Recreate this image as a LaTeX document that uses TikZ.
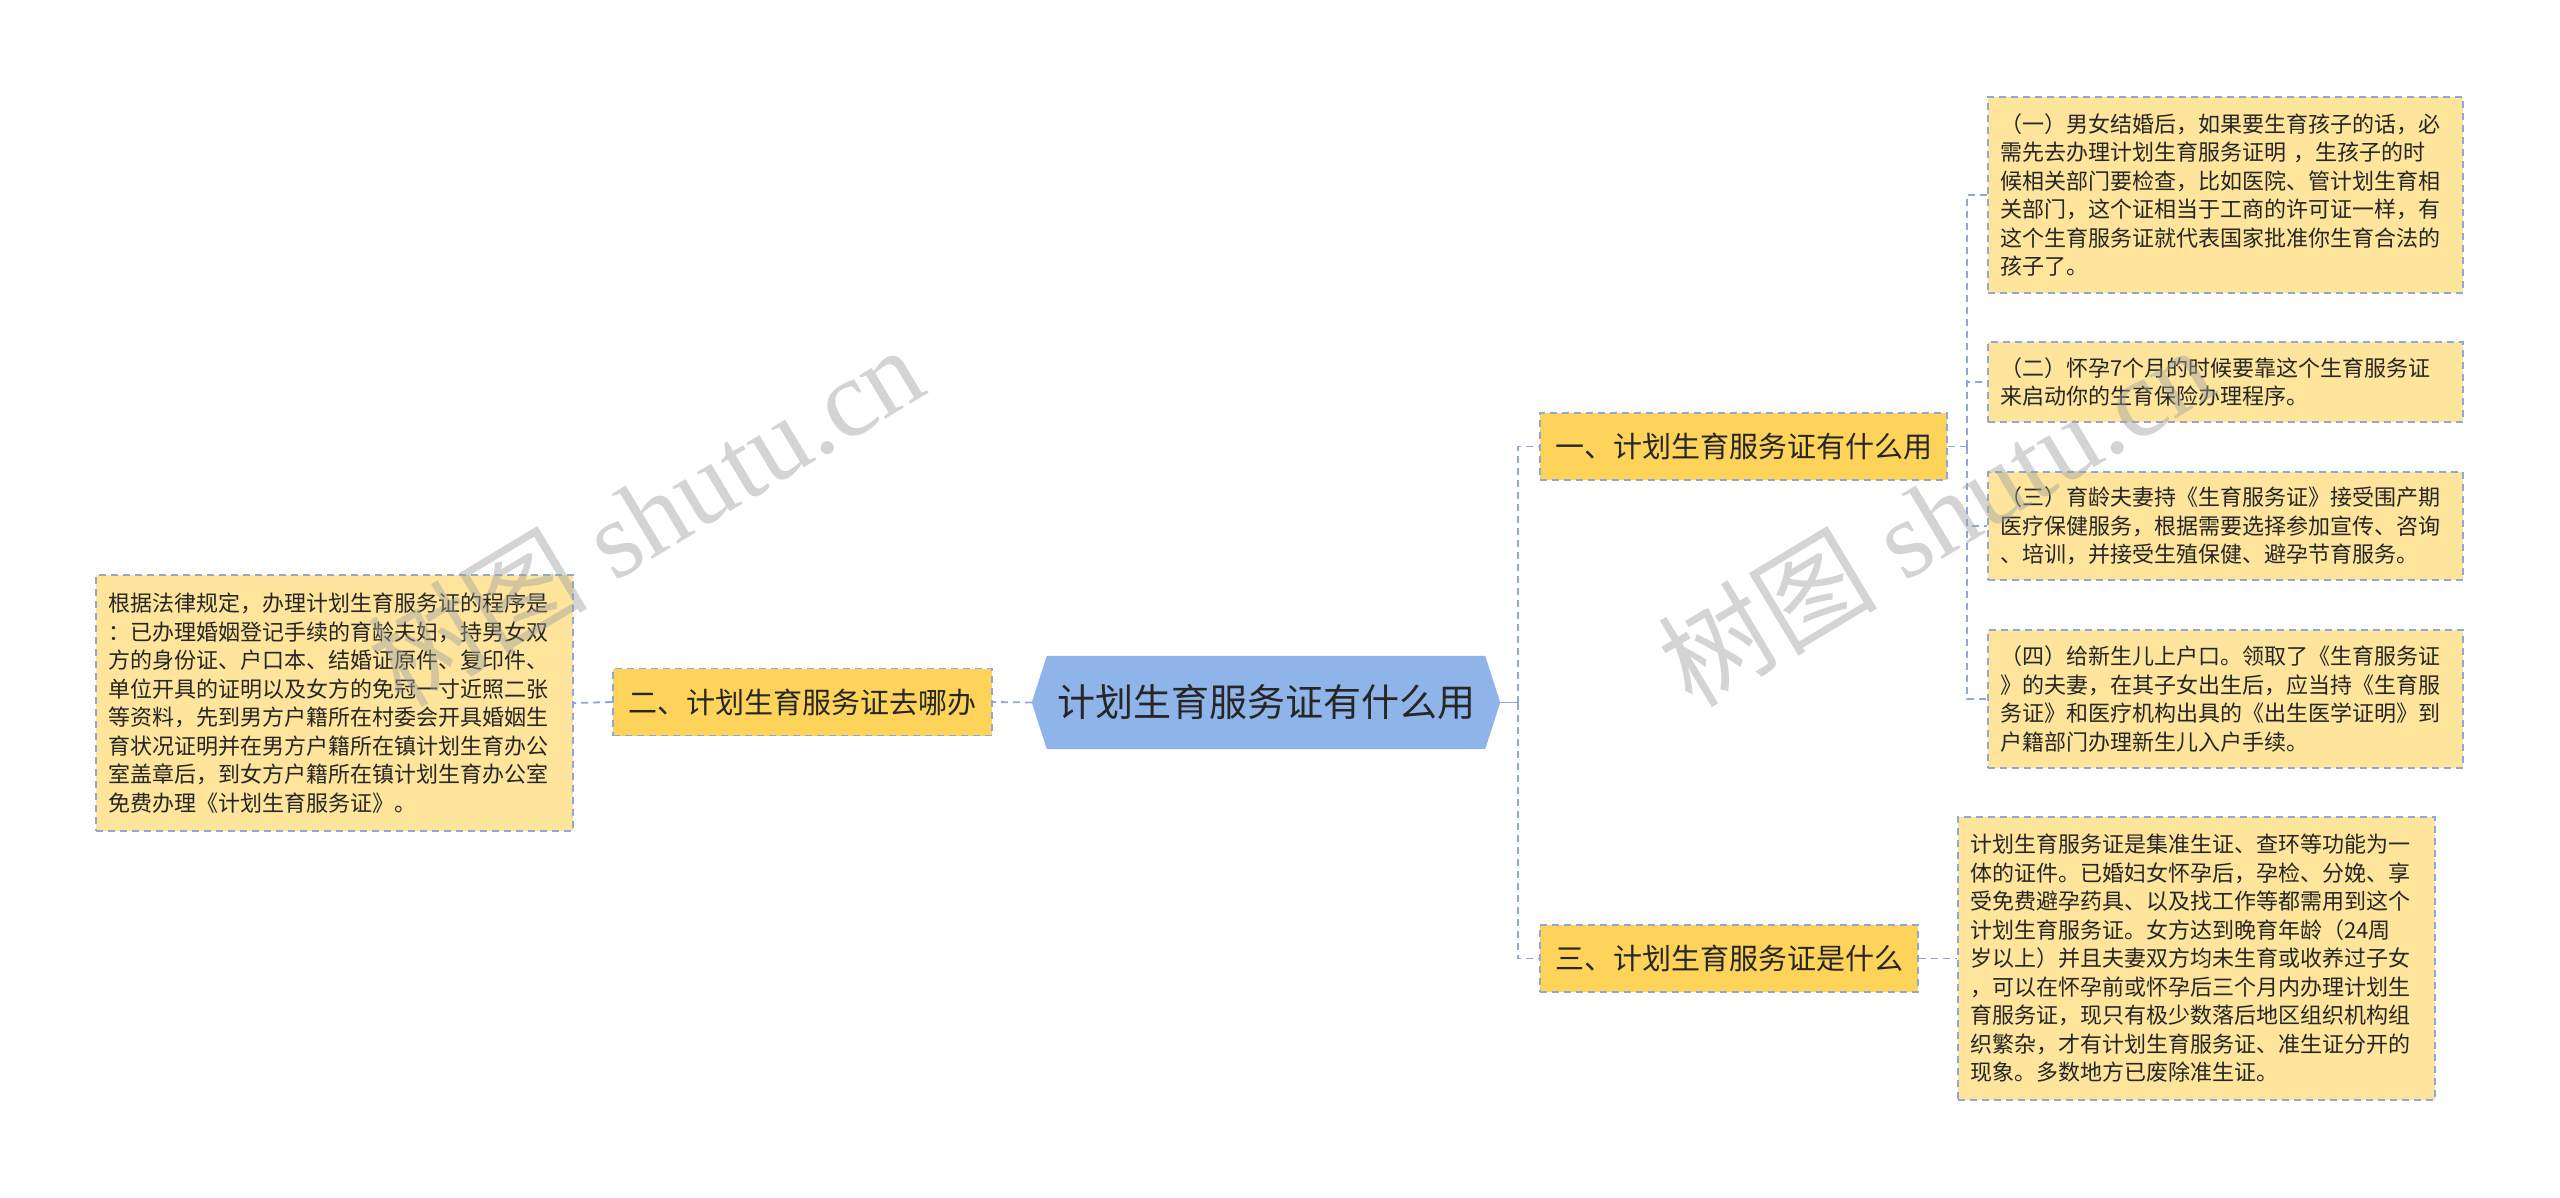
\documentclass[tikz,border=0pt]{standalone}
\usepackage{fontspec}
\setmainfont{Liberation Sans}
\newfontfamily\cjk{Noto Sans CJK SC}
\newfontfamily\wmserif{Liberation Serif}
\usetikzlibrary{calc}
\pgfdeclarelayer{bg}
\pgfsetlayers{bg,main}
\definecolor{centerblue}{HTML}{8FB4EA}
\definecolor{topicgold}{HTML}{FDD35A}
\definecolor{leafgold}{HTML}{FEE59B}
\definecolor{linecol}{HTML}{8EA9D6}
\definecolor{txtcol}{HTML}{262626}
\definecolor{wmcol}{HTML}{A0A0A0}
\tikzset{
  x=1pt, y=-1pt,
  conn/.style={draw=linecol, line width=1.8pt, dash pattern=on 7pt off 5pt},
  solidconn/.style={draw=linecol, line width=1.8pt},
  centernode/.style={font=\cjk\fontsize{38pt}{44pt}\selectfont, text=txtcol, inner sep=0pt, minimum width=468pt, minimum height=93pt},
  topic/.style={fill=topicgold, draw=linecol, line width=1.6pt, dash pattern=on 7pt off 5pt,
    font=\cjk\fontsize{29pt}{35pt}\selectfont, text=txtcol, inner sep=0pt, minimum height=67pt},
  leaf/.style={fill=leafgold, draw=linecol, line width=1.6pt, dash pattern=on 7pt off 5pt,
    font=\cjk\fontsize{22pt}{28.5pt}\selectfont, text=txtcol, align=left, inner xsep=12pt, inner ysep=0pt},
  wm/.style={font=\wmserif\fontsize{110pt}{110pt}\selectfont, text=wmcol, opacity=0.45, inner sep=0pt},
}
\begin{document}
\begin{tikzpicture}
\useasboundingbox (0,0) rectangle (2560,1198);
\begin{pgfonlayer}{bg}
\fill[white] (0,0) rectangle (2560,1198);
\end{pgfonlayer}

% central topic
\node[centernode] (c) at (1266,702.5) {计划生育服务证有什么用};
\begin{pgfonlayer}{bg}
\fill[centerblue] (c.west) -- ([xshift=15pt]c.north west) -- ([xshift=-15pt]c.north east) -- (c.east)
  -- ([xshift=-15pt]c.south east) -- ([xshift=15pt]c.south west) -- cycle;
\end{pgfonlayer}

% level 1
\node[topic, minimum width=407pt] (n1) at (1743.5,446.5) {一、计划生育服务证有什么用};
\node[topic, minimum width=378pt] (n3) at (1729,958.5) {三、计划生育服务证是什么};
\node[topic, minimum width=379pt] (n2) at (802.5,702) {二、计划生育服务证去哪办};

% leaves of n1
\node[leaf, text width=451pt, minimum height=196pt] (a1) at (2225.5,195) {（一）男女结婚后，如果要生育孩子的话，必\\需先去办理计划生育服务证明 ，生孩子的时\\候相关部门要检查，比如医院、管计划生育相\\关部门，这个证相当于工商的许可证一样，有\\这个生育服务证就代表国家批准你生育合法的\\孩子了。};
\node[leaf, text width=451pt, minimum height=80pt] (a2) at (2225.5,382) {（二）怀孕7个月的时候要靠这个生育服务证\\来启动你的生育保险办理程序。};
\node[leaf, text width=451pt, minimum height=108pt] (a3) at (2225.5,526) {（三）育龄夫妻持《生育服务证》接受围产期\\医疗保健服务，根据需要选择参加宣传、咨询\\、培训，并接受生殖保健、避孕节育服务。};
\node[leaf, text width=451pt, minimum height=138pt] (a4) at (2225.5,699) {（四）给新生儿上户口。领取了《生育服务证\\》的夫妻，在其子女出生后，应当持《生育服\\务证》和医疗机构出具的《出生医学证明》到\\户籍部门办理新生儿入户手续。};

% leaf of n3
\node[leaf, text width=453pt, minimum height=283pt] (c1) at (2196.5,958.5) {计划生育服务证是集准生证、查环等功能为一\\体的证件。已婚妇女怀孕后，孕检、分娩、享\\受免费避孕药具、以及找工作等都需用到这个\\计划生育服务证。女方达到晚育年龄（24周\\岁以上）并且夫妻双方均未生育或收养过子女\\，可以在怀孕前或怀孕后三个月内办理计划生\\育服务证，现只有极少数落后地区组织机构组\\织繁杂，才有计划生育服务证、准生证分开的\\现象。多数地方已废除准生证。};

% leaf of n2
\node[leaf, text width=453pt, minimum height=256pt] (b1) at (334.5,703) {根据法律规定，办理计划生育服务证的程序是\\：已办理婚姻登记手续的育龄夫妇，持男女双\\方的身份证、户口本、结婚证原件、复印件、\\单位开具的证明以及女方的免冠一寸近照二张\\等资料，先到男方户籍所在村委会开具婚姻生\\育状况证明并在男方户籍所在镇计划生育办公\\室盖章后，到女方户籍所在镇计划生育办公室\\免费办理《计划生育服务证》。};

% connectors
\begin{pgfonlayer}{bg}
\coordinate (t1) at (1518,702.5);
\draw[solidconn] (c.east) -- (t1);
\draw[conn] (t1) |- (n1.west);
\draw[conn] (t1) |- (n3.west);
\coordinate (t2) at (1967,446.5);
\draw[conn] (n1.east) -- (t2);
\draw[conn] (t2) |- (a1.west);
\draw[conn] (t2) |- (a2.west);
\draw[conn] (t2) |- (a3.west);
\draw[conn] (t2) |- (a4.west);
\draw[conn] (n3.east) -- (c1.west);
\draw[conn] (c.west) -- (n2.east);
\draw[conn] (n2.west) -- (b1.east);
\end{pgfonlayer}

% watermarks
\node[wm, rotate=31] (wm1) at (645,515) {{\cjk 树图} shutu.cn};
\node[wm, rotate=31] (wm2) at (1935,515) {{\cjk 树图} shutu.cn};
\end{tikzpicture}
\end{document}
